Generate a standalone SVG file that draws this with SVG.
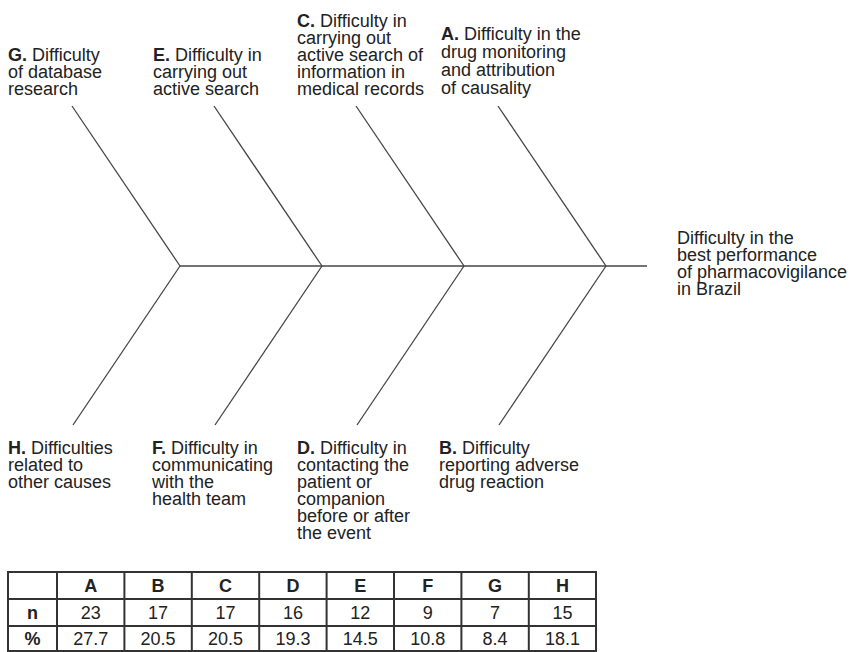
<svg xmlns="http://www.w3.org/2000/svg" width="851" height="652" viewBox="0 0 851 652">
<style>
text{font-family:"Liberation Sans",Arial,sans-serif;font-size:18px;fill:#222}
.b{font-weight:bold}
.bone{stroke:#444;stroke-width:1.3;fill:none}
.spine{stroke:#444;stroke-width:1.6;fill:none}
.tb{stroke:#333;stroke-width:2;fill:none}
.c{text-anchor:middle}
</style>
<rect width="851" height="652" fill="#fff"/>
<g id="connectors">
<line class="spine" x1="180" y1="266" x2="647" y2="266"/>
<line class="bone" x1="72" y1="106" x2="180" y2="266"/>
<line class="bone" x1="214" y1="106" x2="322" y2="266"/>
<line class="bone" x1="356" y1="106" x2="464" y2="266"/>
<line class="bone" x1="498" y1="106" x2="606" y2="266"/>
<line class="bone" x1="180" y1="266" x2="73" y2="425"/>
<line class="bone" x1="322" y1="266" x2="215" y2="425"/>
<line class="bone" x1="464" y1="266" x2="357" y2="425"/>
<line class="bone" x1="606" y1="266" x2="499" y2="425"/>
</g>
<g id="nodeG"><text x="8" y="61"><tspan class="b">G.</tspan> Difficulty</text><text x="8" y="78">of database</text><text x="8" y="95">research</text></g>
<g id="nodeE"><text x="153" y="61"><tspan class="b">E.</tspan> Difficulty in</text><text x="153" y="78">carrying out</text><text x="153" y="95">active search</text></g>
<g id="nodeC"><text x="297" y="27"><tspan class="b">C.</tspan> Difficulty in</text><text x="297" y="44">carrying out</text><text x="297" y="61">active search of</text><text x="297" y="78">information in</text><text x="297" y="95">medical records</text></g>
<g id="nodeA"><text x="441" y="40"><tspan class="b">A.</tspan> Difficulty in the</text><text x="441" y="58">drug monitoring</text><text x="441" y="76">and attribution</text><text x="441" y="94">of causality</text></g>
<g id="nodeH"><text x="8" y="454"><tspan class="b">H.</tspan> Difficulties</text><text x="8" y="471">related to</text><text x="8" y="488">other causes</text></g>
<g id="nodeF"><text x="152" y="454"><tspan class="b">F.</tspan> Difficulty in</text><text x="152" y="471">communicating</text><text x="152" y="488">with the</text><text x="152" y="505">health team</text></g>
<g id="nodeD"><text x="297" y="454"><tspan class="b">D.</tspan> Difficulty in</text><text x="297" y="471">contacting the</text><text x="297" y="488">patient or</text><text x="297" y="505">companion</text><text x="297" y="522">before or after</text><text x="297" y="539">the event</text></g>
<g id="nodeB"><text x="439" y="454"><tspan class="b">B.</tspan> Difficulty</text><text x="439" y="471">reporting adverse</text><text x="439" y="488">drug reaction</text></g>
<g id="effect"><text x="677" y="244">Difficulty in the</text><text x="677" y="261">best performance</text><text x="677" y="278">of pharmacovigilance</text><text x="677" y="295">in Brazil</text></g>
<g id="table">
<rect class="tb" x="8" y="572" width="588" height="79"/>
<line class="tb" x1="8" y1="599" x2="596" y2="599"/>
<line class="tb" x1="8" y1="626" x2="596" y2="626"/>
<line class="tb" x1="57" y1="572" x2="57" y2="651"/>
<line class="tb" x1="124.4" y1="572" x2="124.4" y2="651"/>
<line class="tb" x1="191.8" y1="572" x2="191.8" y2="651"/>
<line class="tb" x1="259.2" y1="572" x2="259.2" y2="651"/>
<line class="tb" x1="326.6" y1="572" x2="326.6" y2="651"/>
<line class="tb" x1="394" y1="572" x2="394" y2="651"/>
<line class="tb" x1="461.4" y1="572" x2="461.4" y2="651"/>
<line class="tb" x1="528.8" y1="572" x2="528.8" y2="651"/>
<text class="b c" x="90.7" y="592">A</text><text class="b c" x="158.1" y="592">B</text><text class="b c" x="225.5" y="592">C</text><text class="b c" x="292.9" y="592">D</text><text class="b c" x="360.3" y="592">E</text><text class="b c" x="427.7" y="592">F</text><text class="b c" x="495.1" y="592">G</text><text class="b c" x="562.4" y="592">H</text>
<text class="b c" x="32.5" y="619">n</text><text class="c" x="90.7" y="619">23</text><text class="c" x="158.1" y="619">17</text><text class="c" x="225.5" y="619">17</text><text class="c" x="292.9" y="619">16</text><text class="c" x="360.3" y="619">12</text><text class="c" x="427.7" y="619">9</text><text class="c" x="495.1" y="619">7</text><text class="c" x="562.4" y="619">15</text>
<text class="b c" x="32.5" y="645">%</text><text class="c" x="90.7" y="645">27.7</text><text class="c" x="158.1" y="645">20.5</text><text class="c" x="225.5" y="645">20.5</text><text class="c" x="292.9" y="645">19.3</text><text class="c" x="360.3" y="645">14.5</text><text class="c" x="427.7" y="645">10.8</text><text class="c" x="495.1" y="645">8.4</text><text class="c" x="562.4" y="645">18.1</text>
</g>
</svg>
